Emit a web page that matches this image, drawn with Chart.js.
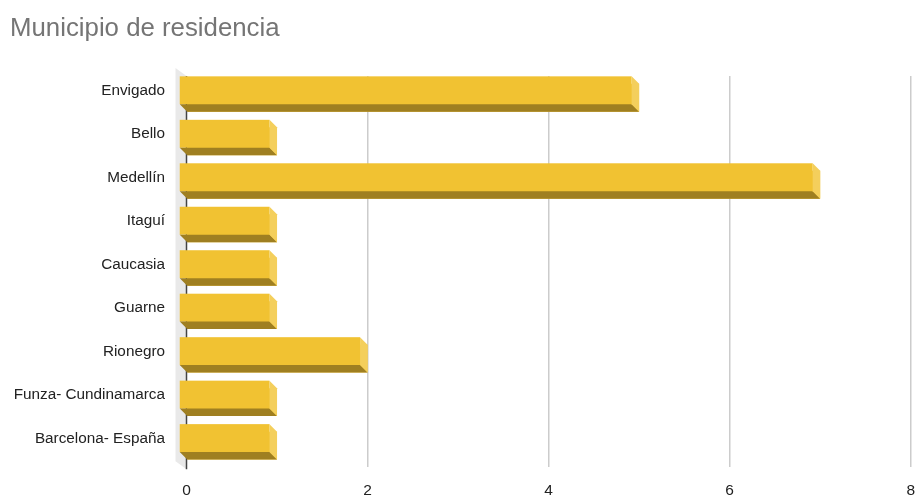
<!DOCTYPE html>
<html>
<head>
<meta charset="utf-8">
<script src="https://cdn.jsdelivr.net/npm/chart.js@4.4.0/dist/chart.umd.min.js"></script>
<style>
  body { margin: 0; background: #ffffff; }
  #wrap { width: 915px; height: 498px; }
</style>
</head>
<body>
<div id="wrap"><canvas id="myChart" width="915" height="498"></canvas></div>
<script>
// data
const categories = ['Envigado', 'Bello', 'Medellín', 'Itaguí', 'Caucasia', 'Guarne', 'Rionegro', 'Funza- Cundinamarca', 'Barcelona- España'];
const counts = [5, 1, 7, 1, 1, 1, 2, 1, 1];
const axisMax = 8;
const axisStep = 2;

const FONT = '"Liberation Sans", Arial, sans-serif';
const DEPTH = 7.5; // 3d offset of the bars

// grey side wall behind the axis
const wallPlugin = {
  id: 'wall',
  beforeDatasetsDraw(chart) {
    const a = chart.chartArea;
    const c = chart.ctx;
    c.save();
    c.fillStyle = '#e9e9e9';
    c.beginPath();
    c.moveTo(a.left - 11, a.top - 8);
    c.lineTo(a.left, a.top);
    c.lineTo(a.left, a.bottom + 2);
    c.lineTo(a.left - 11, a.bottom - 6);
    c.closePath();
    c.fill();
    c.strokeStyle = '#444444';
    c.lineWidth = 1.5;
    c.beginPath();
    c.moveTo(a.left, a.top);
    c.lineTo(a.left, a.bottom + 2);
    c.stroke();
    c.restore();
  }
};

// extruded look for each bar, taken from the bar elements
const bar3d = {
  id: 'bar3d',
  afterDatasetsDraw(chart) {
    const c = chart.ctx;
    const meta = chart.getDatasetMeta(0);
    c.save();
    meta.data.forEach(function (bar) {
      const p = bar.getProps(['x', 'y', 'base', 'height'], true);
      const top = p.y - p.height / 2;
      const bot = p.y + p.height / 2;
      const d = DEPTH;
      // front
      c.fillStyle = '#f1c232';
      c.fillRect(p.base - d, top - d, p.x - p.base, p.height);
      // bottom
      c.fillStyle = '#9f7f21';
      c.beginPath();
      c.moveTo(p.base - d, bot - d);
      c.lineTo(p.x - d, bot - d);
      c.lineTo(p.x, bot);
      c.lineTo(p.base, bot);
      c.closePath();
      c.fill();
      // right side
      c.fillStyle = '#f4cf5c';
      c.beginPath();
      c.moveTo(p.x - d, top - d);
      c.lineTo(p.x, top);
      c.lineTo(p.x, bot);
      c.lineTo(p.x - d, bot - d);
      c.closePath();
      c.fill();
    });
    c.restore();
  }
};

const data = {
  labels: categories,
  datasets: [{
    data: counts,
    backgroundColor: '#f1c232',
    borderWidth: 0,
    barPercentage: 0.642,
    categoryPercentage: 1
  }]
};

const config = {
  type: 'bar',
  data: data,
  plugins: [wallPlugin, bar3d],
  options: {
    indexAxis: 'y',
    responsive: false,
    animation: false,
    devicePixelRatio: 1,
    layout: { padding: { left: 10, right: 4, top: 0, bottom: 0 } },
    plugins: {
      legend: { display: false },
      tooltip: { enabled: false },
      title: {
        display: true,
        text: 'Municipio de residencia',
        align: 'start',
        color: '#757575',
        font: { family: FONT, size: 25.8, weight: 'normal' },
        padding: { top: 13.5, bottom: 31.6 }
      }
    },
    scales: {
      x: {
        min: 0,
        max: axisMax,
        ticks: {
          stepSize: axisStep,
          padding: 0,
          color: '#222222',
          font: { family: FONT, size: 15.5 }
        },
        grid: {
          drawTicks: true,
          tickLength: 14,
          tickColor: 'rgba(0,0,0,0)',
          lineWidth: 1.5,
          color: function (ctx) { return ctx.tick && ctx.tick.value === 0 ? 'rgba(0,0,0,0)' : '#cccccc'; }
        },
        border: { display: false },
        afterFit: function (scale) { scale.height = 30; }
      },
      y: {
        ticks: {
          padding: 21.5,
          labelOffset: -7,
          color: '#222222',
          font: { family: FONT, size: 15.3 }
        },
        grid: { display: false, drawTicks: false },
        border: { display: false },
        afterFit: function (scale) { scale.width = 176.5; }
      }
    }
  }
};

const myChart = new Chart(document.getElementById('myChart'), config);
</script>
</body>
</html>
